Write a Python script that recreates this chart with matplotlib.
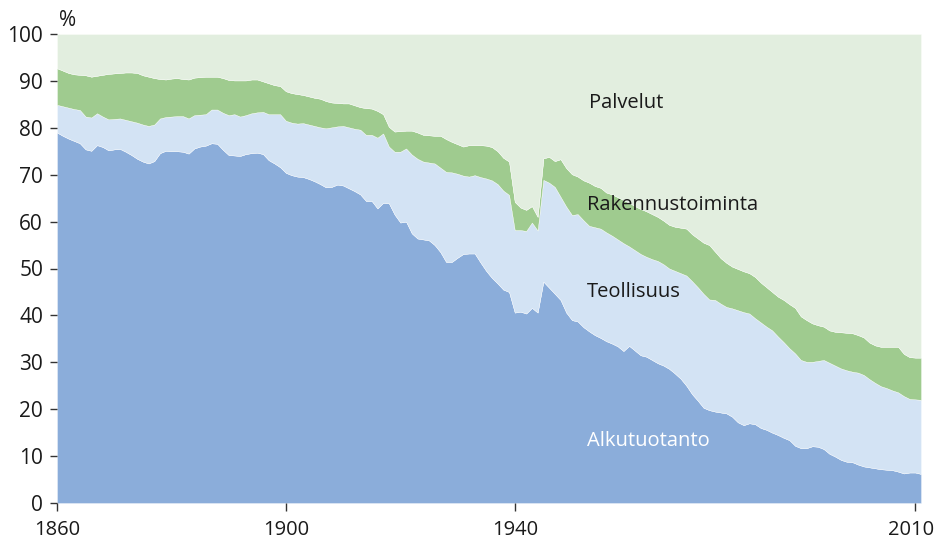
import matplotlib
matplotlib.use("Agg")
import matplotlib.pyplot as plt
from matplotlib.transforms import ScaledTranslation

plt.rcParams['font.family'] = ['Open Sans', 'DejaVu Sans']

years = list(range(1860, 2012))

alkutuotanto = [
    79.0, 78.3, 77.7, 77.2, 76.7, 75.4, 75.1, 76.3, 75.9, 75.2,
    75.4, 75.5, 74.9, 74.2, 73.4, 72.8, 72.4, 72.9, 74.6, 75.1,
    75.0, 75.0, 74.9, 74.5, 75.6, 76.0, 76.2, 76.7, 76.6, 75.3,
    74.2, 74.1, 74.0, 74.4, 74.6, 74.7, 74.4, 73.1, 72.4, 71.6,
    70.4, 69.9, 69.6, 69.5, 69.1, 68.6, 68.0, 67.3, 67.4, 67.9,
    67.7, 67.1, 66.5, 65.8, 64.4, 64.4, 62.8, 64.0, 63.9, 61.5,
    59.8, 60.0, 57.5, 56.4, 56.2, 56.0, 55.0, 53.5, 51.4, 51.4,
    52.3, 53.1, 53.2, 53.2, 51.3, 49.5, 48.0, 46.8, 45.5, 45.0,
    40.6, 40.8, 40.4, 41.6, 40.6, 47.2, 45.9, 44.6, 43.3, 40.6,
    39.0, 38.7, 37.5, 36.6, 35.8, 35.2, 34.5, 34.0, 33.4, 32.4,
    33.5, 32.5, 31.5, 31.2, 30.5, 29.8, 29.3, 28.6, 27.6, 26.5,
    25.0, 23.2, 21.8, 20.3, 19.8, 19.5, 19.3, 19.1, 18.4, 17.2,
    16.6, 17.0, 16.8, 16.0, 15.6, 15.0, 14.5, 13.9, 13.4, 12.2,
    11.7, 11.7, 12.1, 12.0, 11.5, 10.5, 9.9, 9.2, 8.8, 8.7,
    8.2, 7.8, 7.6, 7.4, 7.2, 7.1, 7.0, 6.7, 6.3, 6.5,
    6.5, 6.2,
]

teollisuus = [
    5.9, 6.3, 6.6, 6.8, 7.1, 7.0, 7.1, 6.8, 6.5, 6.6,
    6.5, 6.5, 6.8, 7.2, 7.7, 7.9, 8.0, 7.8, 7.4, 7.2,
    7.4, 7.5, 7.6, 7.5, 7.1, 6.8, 6.7, 7.2, 7.3, 7.9,
    8.5, 8.8, 8.4, 8.3, 8.5, 8.6, 9.0, 9.8, 10.5, 11.3,
    11.1, 11.2, 11.3, 11.5, 11.6, 11.8, 12.1, 12.6, 12.7, 12.4,
    12.7, 13.0, 13.3, 13.8, 14.1, 14.1, 15.1, 14.8, 12.1, 13.4,
    15.1, 15.6, 16.8, 17.0, 16.6, 16.6, 17.4, 18.0, 19.2, 19.1,
    17.9, 16.7, 16.4, 16.7, 18.2, 19.7, 20.8, 21.2, 21.1, 20.7,
    17.6, 17.4, 17.6, 18.2, 17.5, 21.7, 22.4, 22.8, 22.0, 22.6,
    22.4, 22.9, 22.8, 22.5, 23.0, 23.3, 23.2, 23.0, 22.8, 23.0,
    21.2, 21.4, 21.6, 21.3, 21.5, 21.8, 21.6, 21.4, 21.9, 22.5,
    23.5, 24.1, 24.2, 24.3, 23.6, 23.8, 23.2, 22.7, 23.1, 23.9,
    24.1, 23.4, 22.6, 22.5, 22.0, 21.8, 21.0, 20.4, 19.6, 19.7,
    18.8, 18.4, 18.0, 18.3, 19.0, 19.4, 19.4, 19.5, 19.5, 19.3,
    19.6, 19.5, 18.8, 18.2, 17.7, 17.4, 17.0, 16.9, 16.5, 15.7,
    15.6, 15.8,
]

rakennustoiminta = [
    7.8, 7.6, 7.4, 7.4, 7.5, 8.8, 8.7, 8.0, 8.9, 9.7,
    9.7, 9.7, 10.1, 10.4, 10.6, 10.5, 10.5, 9.9, 8.4, 8.0,
    8.1, 8.1, 7.9, 8.3, 8.0, 8.0, 8.0, 7.0, 7.0, 7.4,
    7.5, 7.2, 7.7, 7.4, 7.2, 7.0, 6.5, 6.6, 6.2, 6.0,
    6.3, 6.3, 6.3, 6.0, 6.0, 6.0, 6.1, 5.8, 5.3, 5.0,
    4.8, 5.1, 5.0, 4.8, 5.7, 5.6, 5.7, 4.1, 4.2, 4.3,
    4.4, 3.8, 5.1, 5.6, 5.7, 5.8, 5.9, 6.8, 7.0, 6.5,
    6.3, 6.2, 6.7, 6.4, 6.8, 7.0, 7.1, 7.0, 7.0, 7.1,
    6.0, 4.8, 4.5, 3.5, 2.9, 4.6, 5.5, 5.5, 8.0, 8.2,
    8.7, 8.0, 8.5, 9.2, 8.8, 8.7, 8.5, 8.8, 9.0, 9.2,
    9.3, 9.4, 9.6, 9.7, 9.6, 9.4, 9.3, 9.3, 9.4, 9.7,
    10.0, 10.0, 10.4, 10.9, 11.6, 10.3, 9.7, 9.4, 8.9, 8.8,
    8.7, 8.6, 8.8, 8.5, 8.4, 8.2, 8.5, 9.0, 9.4, 9.7,
    9.3, 8.9, 8.2, 7.6, 7.1, 6.9, 7.2, 7.7, 8.0, 8.2,
    8.0, 8.0, 7.8, 8.0, 8.4, 8.8, 9.3, 9.7, 9.0, 8.9,
    8.9, 9.0,
]

palvelut = [
    7.3, 7.8, 8.3, 8.6, 8.7, 8.8, 9.1, 8.9, 8.7, 8.5,
    8.4, 8.3, 8.2, 8.2, 8.3, 8.8, 9.1, 9.4, 9.6, 9.7,
    9.5, 9.4, 9.6, 9.7, 9.3, 9.2, 9.1, 9.1, 9.1, 9.4,
    9.8, 9.9, 9.9, 9.9, 9.7, 9.7, 10.1, 10.5, 10.9, 11.1,
    12.2, 12.6, 12.8, 13.0, 13.3, 13.6, 13.8, 14.3, 14.6, 14.7,
    14.8, 14.8, 15.2, 15.6, 15.8, 15.9, 16.4, 17.1, 19.8, 20.8,
    20.7, 20.6, 20.6, 21.0, 21.5, 21.6, 21.7, 21.7, 22.4, 23.0,
    23.5, 24.0, 23.7, 23.7, 23.7, 23.8, 24.1, 25.0, 26.4, 27.2,
    35.8, 37.0, 37.5, 36.7, 39.0, 26.5, 26.2, 27.1, 26.7, 28.6,
    29.9, 30.4, 31.2, 31.7, 32.4, 32.8, 33.8, 34.2, 34.8, 35.4,
    36.0, 36.7, 37.3, 37.8, 38.4, 39.0, 39.8, 40.7, 41.1, 41.3,
    41.5, 42.7, 43.6, 44.5, 45.0, 46.4, 47.8, 48.8, 49.6, 50.1,
    50.6, 51.0, 51.8, 53.0, 54.0, 55.0, 56.0, 56.7, 57.6, 58.4,
    60.2, 61.0, 61.7, 62.1, 62.4, 63.2, 63.5, 63.6, 63.7, 63.8,
    64.2, 64.7, 65.8, 66.4, 66.7, 66.7, 66.7, 66.7, 68.2, 68.9,
    69.0, 69.0,
]

sector_names = ["Alkutuotanto", "Teollisuus", "Rakennustoiminta", "Palvelut"]
sector_colors = ["#8badda", "#d3e3f4", "#9fcb8f", "#e2eedf"]
x_ticks = [1860, 1900, 1940, 2010]
y_ticks = [0, 10, 20, 30, 40, 50, 60, 70, 80, 90, 100]

fig = plt.figure(figsize=(9.36, 5.44), dpi=100)
ax = fig.add_axes([57 / 936, 41 / 544, (921 - 57) / 936, (503 - 34) / 544])

ax.stackplot(years, alkutuotanto, teollisuus, rakennustoiminta, palvelut,
             colors=sector_colors, edgecolor="white", linewidth=0.25)

ax.set_xlim(years[0], years[-1])
ax.set_ylim(0, 100)
for s in ax.spines.values():
    s.set_visible(False)

ax.set_xticks(x_ticks)
ax.set_yticks(y_ticks)
ax.tick_params(axis="both", colors="#333333", labelcolor="#1a1a1a",
               labelsize=15, width=1, length=5)
ax.tick_params(axis="y", pad=5)
ax.tick_params(axis="x", length=6, pad=6, labelsize=14.5)

# nudge the last x label left so it stays inside the figure
last_lbl = ax.get_xticklabels()[-1]
last_lbl.set_transform(last_lbl.get_transform()
                       + ScaledTranslation(-4 / 100, 0, fig.dpi_scale_trans))

fig.text(59 / 936, 1 - 20 / 544, "%", fontsize=15, color="#1a1a1a",
         ha="left", va="center")

label_style = dict(fontsize=14.5, ha="left", va="center")
ax.text(1953.0, 85.3, "Palvelut", color="#1a1a1a", **label_style)
ax.text(1952.6, 63.5, "Rakennustoiminta", color="#1a1a1a", **label_style)
ax.text(1952.6, 45.0, "Teollisuus", color="#1a1a1a", **label_style)
ax.text(1952.6, 13.2, "Alkutuotanto", color="white", **label_style)

fig.savefig("out.png", dpi=100)
